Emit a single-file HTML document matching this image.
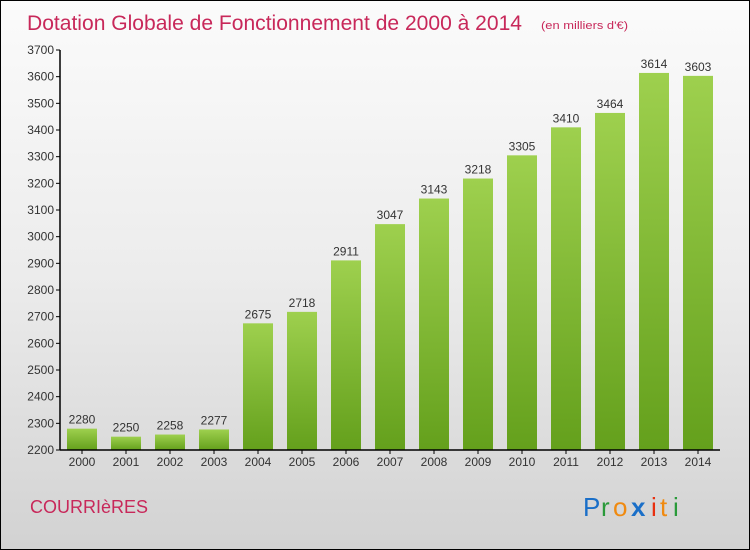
<!DOCTYPE html>
<html><head><meta charset="utf-8"><style>
body{margin:0}
#c{position:relative;width:750px;height:550px;box-sizing:border-box;border:1px solid #000;background:linear-gradient(#fbfbfb,#ececec 50%,#d2d2d2);font-family:"Liberation Sans",sans-serif;overflow:hidden}
</style></head><body>
<div id="c">
<svg width="750" height="550" style="position:absolute;left:-1px;top:-1px" id="s">
<defs><linearGradient id="g" x1="0" y1="0" x2="0" y2="1"><stop offset="0" stop-color="#9ed04e"/><stop offset="1" stop-color="#64a01c"/></linearGradient></defs>
<text x="27" y="30" font-size="21" fill="#c8285a" textLength="495" lengthAdjust="spacingAndGlyphs">Dotation Globale de Fonctionnement de 2000 à 2014</text>
<text x="541" y="29" font-size="11" fill="#c8285a" textLength="87" lengthAdjust="spacingAndGlyphs">(en milliers d'€)</text>
<text x="30" y="513" font-size="18" fill="#c8285a">COURRIèRES</text>
<g font-size="26"><text x="583" y="516" fill="#1a6fc8">P</text><text x="601" y="516" fill="#2a9a3a">r</text><text x="613" y="516" fill="#f08a10">o</text><text x="631" y="516" fill="#1a6fc8" font-weight="bold">x</text><text x="651" y="516" fill="#e83010">i</text><text x="660" y="516" fill="#f08a10">t</text><text x="673" y="516" fill="#2a9a3a">i</text></g>
<g id="plot"></g>
</svg>
</div>
<script>
const years=["2000","2001","2002","2003","2004","2005","2006","2007","2008","2009","2010","2011","2012","2013","2014"];
const values=[2280,2250,2258,2277,2675,2718,2911,3047,3143,3218,3305,3410,3464,3614,3603];
const yTicks=[2200,2300,2400,2500,2600,2700,2800,2900,3000,3100,3200,3300,3400,3500,3600,3700];
const ns="http://www.w3.org/2000/svg",p=document.getElementById('plot');
const y=v=>450-(v-2200)*400/1500, x=i=>82+i*44;
function mk(t,a,txt){const e=document.createElementNS(ns,t);for(const k in a)e.setAttribute(k,a[k]);if(txt!=null)e.textContent=txt;p.appendChild(e);return e;}
yTicks.forEach(v=>{
 const l=mk('line',{x1:56,x2:60,y1:y(v),y2:y(v),stroke:'#000'});
 
 
 const t=mk('text',{x:54,y:y(v)+4,'font-size':12,'text-anchor':'end',fill:'#333'},v);
 
 
});
values.forEach((v,i)=>{
 const r=mk('rect',{x:x(i)-15,y:y(v),width:30,height:450-y(v),fill:'url(#g)'});
 
 
 const t=mk('text',{x:x(i),y:y(v)-5,'font-size':12,'text-anchor':'middle',fill:'#333'},v);
 
 
 const xl=mk('text',{x:x(i),y:466,'font-size':12,'text-anchor':'middle',fill:'#333'},years[i]);
 
 
 const tk=mk('line',{x1:x(i),x2:x(i),y1:450,y2:454,stroke:'#000'});
 
 
});
const ya=mk('line',{x1:60,x2:60,y1:y(3700),y2:450,stroke:'#000','stroke-width':1.5});


const xa=mk('line',{x1:60,x2:720,y1:450,y2:450,stroke:'#000','stroke-width':1.5});


</script>
</body></html>
